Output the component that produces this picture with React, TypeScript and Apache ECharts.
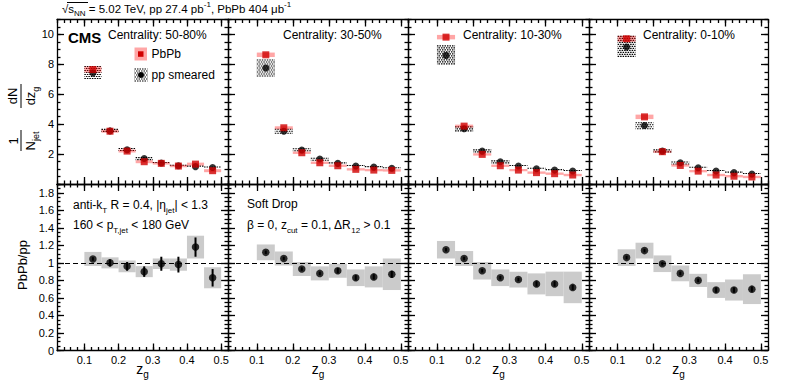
import React, { useEffect, useRef } from 'react';
import * as echarts from 'echarts';

const FONT = '"Liberation Sans", Arial, Helvetica, sans-serif';

// ---------------- data ----------------
const binLow = [0.1, 0.15, 0.2, 0.25, 0.3, 0.35, 0.4, 0.45];
const binWidth = 0.05;
const centralityLabels = ['Centrality: 50-80%', 'Centrality: 30-50%', 'Centrality: 10-30%', 'Centrality: 0-10%'];

const ppSmeared = [
  [7.42, 3.55, 2.29, 1.71, 1.40, 1.22, 1.16, 1.10],
  [7.76, 3.53, 2.27, 1.67, 1.38, 1.20, 1.13, 1.05],
  [8.60, 3.69, 2.20, 1.49, 1.20, 1.02, 0.93, 0.87],
  [9.16, 3.91, 2.20, 1.42, 1.09, 0.87, 0.76, 0.67],
];
const ppSyst = [
  [0.50, 0.17, 0.15, 0.12, 0.10, 0.10, 0.10, 0.10],
  [0.60, 0.20, 0.15, 0.12, 0.10, 0.10, 0.10, 0.10],
  [0.70, 0.20, 0.15, 0.12, 0.10, 0.10, 0.10, 0.10],
  [0.78, 0.25, 0.15, 0.12, 0.10, 0.10, 0.10, 0.10],
];
const pbpb = [
  [7.65, 3.53, 2.20, 1.49, 1.38, 1.20, 1.33, 0.89],
  [8.64, 3.76, 2.09, 1.42, 1.22, 0.98, 0.93, 0.91],
  [9.82, 3.87, 1.98, 1.22, 0.93, 0.76, 0.69, 0.60],
  [9.71, 4.49, 2.16, 1.24, 0.86, 0.60, 0.52, 0.47],
];
const pbpbSyst = [
  [0.20, 0.10, 0.10, 0.10, 0.08, 0.08, 0.10, 0.10],
  [0.15, 0.10, 0.08, 0.08, 0.08, 0.08, 0.08, 0.08],
  [0.15, 0.10, 0.08, 0.08, 0.08, 0.08, 0.08, 0.08],
  [0.20, 0.15, 0.08, 0.08, 0.08, 0.08, 0.08, 0.08],
];
const ratio = [
  [1.045, 1.00, 0.96, 0.90, 0.99, 0.98, 1.18, 0.83],
  [1.12, 1.05, 0.93, 0.88, 0.91, 0.83, 0.84, 0.87],
  [1.15, 1.05, 0.91, 0.83, 0.81, 0.76, 0.76, 0.72],
  [1.06, 1.14, 0.99, 0.88, 0.80, 0.69, 0.69, 0.70],
];
const ratioStat = [
  [0.02, 0.04, 0.05, 0.06, 0.08, 0.09, 0.11, 0.10],
  [0.02, 0.02, 0.02, 0.02, 0.03, 0.03, 0.03, 0.04],
  [0.02, 0.02, 0.02, 0.02, 0.02, 0.03, 0.03, 0.03],
  [0.02, 0.02, 0.02, 0.02, 0.02, 0.03, 0.03, 0.03],
];
const ratioSyst = [
  [0.08, 0.063, 0.067, 0.063, 0.06, 0.07, 0.13, 0.12],
  [0.09, 0.08, 0.08, 0.08, 0.08, 0.095, 0.12, 0.18],
  [0.10, 0.085, 0.10, 0.095, 0.09, 0.12, 0.14, 0.18],
  [0.095, 0.09, 0.095, 0.09, 0.075, 0.09, 0.12, 0.17],
];

const xMajorTicks = [0.1, 0.2, 0.3, 0.4, 0.5];
const topYMajorTicks = [0, 2, 4, 6, 8, 10];
const ratioYMajorTicks = [0, 0.2, 0.4, 0.6, 0.8, 1, 1.2, 1.4, 1.6, 1.8];

// ---------------- layout ----------------
const COLS = [[57, 228], [228, 408], [408, 589], [589, 768]];
const ROWS = [[19.5, 184], [184, 350.5]];
const X_MIN = 0.02, X_MAX = 0.52;

const AXIS_LINE = { color: '#000', width: 1.3 };

function rich(fs: number) {
  const s = Math.round(fs * 0.7);
  return {
    n: { fontSize: fs, fontFamily: FONT, fill: '#000', lineHeight: Math.round(fs * 1.5), verticalAlign: 'middle' },
    sub: { fontSize: s, fontFamily: FONT, fill: '#000', lineHeight: s, verticalAlign: 'bottom' },
    sup: { fontSize: s, fontFamily: FONT, fill: '#000', lineHeight: s, verticalAlign: 'top' },
  };
}
function txt(x: number, y: number, text: string, fs: number, opts: any = {}) {
  return {
    type: 'text', x, y, silent: true, z: 100,
    style: {
      text, fontSize: fs, fontFamily: FONT, fill: '#000', rich: rich(fs),
      fontWeight: opts.bold ? 'bold' : 'normal',
      textAlign: opts.align || 'left', textVerticalAlign: 'middle',
    },
  };
}
function hatchChildren(x: number, y: number, w: number, h: number) {
  const ch: any[] = [];
  let k = 0;
  for (let yy = y + 1; yy <= y + h - 0.4; yy += 2, k++) {
    ch.push({
      type: 'line',
      shape: { x1: x, y1: yy, x2: x + w, y2: yy },
      style: { stroke: '#000', lineWidth: 1.1, lineDash: [1.5, 1], lineDashOffset: k % 2 ? 1.25 : 0 },
    });
  }
  return ch;
}

const isMult = (v: number, step: number) => Math.abs(v / step - Math.round(v / step)) < 1e-6;

function xAxisFor(g: number, row: number, pos: string, major: boolean) {
  const showLabel = !major && pos === 'bottom' && row === 1;
  return {
    type: 'value', gridIndex: g, position: pos, min: X_MIN, max: X_MAX, interval: 0.02,
    axisLine: { show: !major, onZero: false, lineStyle: AXIS_LINE },
    axisTick: major
      ? { show: true, inside: true, length: 7, customValues: xMajorTicks, lineStyle: AXIS_LINE }
      : { show: true, inside: true, length: 3.5, lineStyle: AXIS_LINE },
    axisLabel: showLabel
      ? {
          show: true, fontSize: 11, fontFamily: FONT, color: '#000', margin: 4,
          formatter: (v: number) => {
            const t = Math.round(v * 10);
            return isMult(v, 0.1) && t >= 1 && t <= 5 ? (t / 10).toFixed(1) : '';
          },
        }
      : { show: false },
    splitLine: { show: false },
  };
}
function yAxisFor(g: number, row: number, col: number, pos: string, major: boolean) {
  const showLabel = !major && pos === 'left' && col === 0;
  const isTop = row === 0;
  const max = isTop ? 11 : 1.9;
  const interval = isTop ? 0.5 : 0.05;
  return {
    type: 'value', gridIndex: g, position: pos, min: 0, max, interval,
    axisLine: { show: !major, onZero: false, lineStyle: AXIS_LINE },
    axisTick: major
      ? { show: true, inside: true, length: 7, customValues: isTop ? topYMajorTicks : ratioYMajorTicks, lineStyle: AXIS_LINE }
      : { show: true, inside: true, length: 3.5, lineStyle: AXIS_LINE },
    axisLabel: showLabel
      ? {
          show: true, fontSize: 11, fontFamily: FONT, color: '#000', margin: 3,
          formatter: (v: number) => {
            if (isTop) return isMult(v, 2) && v > 0 ? String(Math.round(v)) : '';
            return isMult(v, 0.2) && v < 1.85 ? String(Math.round(v * 5) / 5) : '';
          },
        }
      : { show: false },
    splitLine: { show: false },
  };
}

const boxRender = (fill: string) => (_p: any, api: any) => {
  const a = api.coord([api.value(0), api.value(3)]);
  const b = api.coord([api.value(1), api.value(2)]);
  return { type: 'rect', shape: { x: a[0], y: a[1], width: b[0] - a[0], height: b[1] - a[1] }, style: { fill } };
};
const hatchRender = (_p: any, api: any) => {
  const a = api.coord([api.value(0), api.value(3)]);
  const b = api.coord([api.value(1), api.value(2)]);
  return { type: 'group', children: hatchChildren(a[0], a[1], b[0] - a[0], b[1] - a[1]) };
};
const statRender = (_p: any, api: any) => {
  const a = api.coord([api.value(0), api.value(2)]);
  const b = api.coord([api.value(0), api.value(1)]);
  return { type: 'line', shape: { x1: a[0], y1: a[1], x2: b[0], y2: b[1] }, style: { stroke: '#000', lineWidth: 2 } };
};

function buildOption() {
  const grid: any[] = [], xAxis: any[] = [], yAxis: any[] = [], series: any[] = [];
  const centers = binLow.map((b) => b + binWidth / 2);
  for (let row = 0; row < 2; row++) {
    for (let col = 0; col < 4; col++) {
      const g = row * 4 + col;
      grid.push({
        left: COLS[col][0], top: ROWS[row][0],
        width: COLS[col][1] - COLS[col][0], height: ROWS[row][1] - ROWS[row][0],
        containLabel: false, outerBoundsMode: 'none',
      });
      const xi = xAxis.length, yi = yAxis.length;
      xAxis.push(xAxisFor(g, row, 'bottom', false), xAxisFor(g, row, 'bottom', true), xAxisFor(g, row, 'top', false), xAxisFor(g, row, 'top', true));
      yAxis.push(yAxisFor(g, row, col, 'left', false), yAxisFor(g, row, col, 'left', true), yAxisFor(g, row, col, 'right', false), yAxisFor(g, row, col, 'right', true));
      const ax = { xAxisIndex: xi, yAxisIndex: yi };
      if (row === 0) {
        series.push({
          type: 'custom', ...ax, z: 2, silent: true, renderItem: hatchRender, encode: { x: [0, 1], y: [2, 3] },
          data: binLow.map((lo, i) => [lo, lo + binWidth, ppSmeared[col][i] - ppSyst[col][i], ppSmeared[col][i] + ppSyst[col][i]]),
        });
        series.push({
          type: 'custom', ...ax, z: 3, silent: true, renderItem: boxRender('rgba(255,0,0,0.35)'), encode: { x: [0, 1], y: [2, 3] },
          data: binLow.map((lo, i) => [lo, lo + binWidth, pbpb[col][i] - pbpbSyst[col][i], pbpb[col][i] + pbpbSyst[col][i]]),
        });
        series.push({
          type: 'scatter', ...ax, z: 4, silent: true, symbol: 'circle', symbolSize: 7,
          itemStyle: { color: '#000' }, data: centers.map((c, i) => [c, ppSmeared[col][i]]),
        });
        series.push({
          type: 'scatter', ...ax, z: 5, silent: true, symbol: 'rect', symbolSize: 7,
          itemStyle: { color: '#d00000' }, data: centers.map((c, i) => [c, pbpb[col][i]]),
        });
      } else {
        series.push({
          type: 'custom', ...ax, z: 2, silent: true, renderItem: boxRender('#cbcbcb'), encode: { x: [0, 1], y: [2, 3] },
          data: binLow.map((lo, i) => [lo, lo + binWidth, ratio[col][i] - ratioSyst[col][i], ratio[col][i] + ratioSyst[col][i]]),
        });
        series.push({
          type: 'custom', ...ax, z: 3, silent: true, renderItem: statRender, encode: { x: 0, y: [1, 2] },
          data: centers.map((c, i) => [c, ratio[col][i] - ratioStat[col][i], ratio[col][i] + ratioStat[col][i]]),
        });
        series.push({
          type: 'scatter', ...ax, z: 4, silent: true, symbol: 'circle', symbolSize: 7.5,
          itemStyle: { color: '#000' }, data: centers.map((c, i) => [c, ratio[col][i]]),
          markLine: {
            silent: true, symbol: ['none', 'none'], label: { show: false },
            lineStyle: { color: '#000', type: [5, 3], width: 1.2 },
            data: [{ yAxis: 1 }],
          },
        });
      }
    }
  }

  const graphic: any[] = [];
  // header
  graphic.push(txt(62, 9, '{n|√s}{sub|NN}{n| = 5.02 TeV, pp 27.4 pb}{sup|-1}{n|, PbPb 404 μb}{sup|-1}', 11.5));
  graphic.push({ type: 'line', silent: true, shape: { x1: 67, y1: 2.5, x2: 88, y2: 2.5 }, style: { stroke: '#000', lineWidth: 1 } });
  // CMS
  graphic.push(txt(68, 37, 'CMS', 15, { bold: true }));
  const centX = [108, 283, 463, 643];
  centralityLabels.forEach((t, i) => graphic.push(txt(centX[i], 34.5, t, 12)));
  // legend
  graphic.push({ type: 'rect', silent: true, shape: { x: 134.5, y: 47.5, width: 12.5, height: 13 }, style: { fill: 'rgba(255,0,0,0.35)' } });
  graphic.push({ type: 'rect', silent: true, shape: { x: 138, y: 51.3, width: 5.5, height: 5.5 }, style: { fill: '#d00000' } });
  graphic.push(txt(151.5, 54, 'PbPb', 12));
  graphic.push({ type: 'group', silent: true, children: hatchChildren(134.5, 68, 13, 14) });
  graphic.push({ type: 'circle', silent: true, shape: { cx: 141, cy: 75, r: 3 }, style: { fill: '#000' } });
  graphic.push(txt(151.5, 75, 'pp smeared', 12));
  // bottom texts
  graphic.push(txt(73, 205, '{n|anti-k}{sub|T}{n| R = 0.4, |η}{sub|jet}{n|| < 1.3}', 12));
  graphic.push(txt(73, 225, '{n|160 < p}{sub|T,jet}{n| < 180 GeV}', 12));
  graphic.push(txt(247, 204, 'Soft Drop', 12));
  graphic.push(txt(247, 225, '{n|β = 0, z}{sub|cut}{n| = 0.1, ΔR}{sub|12}{n| > 0.1}', 12));
  // x titles
  COLS.forEach((c) => graphic.push(txt((c[0] + c[1]) / 2, 369, '{n|z}{sub|g}', 14, { align: 'center' })));
  // y title top (fraction)
  graphic.push({
    type: 'group', x: 21, y: 118, rotation: Math.PI / 2, silent: true,
    children: [
      txt(-23, -8, '1', 13, { align: 'center' }),
      txt(-23, 9, '{n|N}{sub|jet}', 13, { align: 'center' }),
      { type: 'line', shape: { x1: -33, y1: 0, x2: -12, y2: 0 }, style: { stroke: '#000', lineWidth: 1 } },
      txt(22, -9, 'dN', 13, { align: 'center' }),
      txt(22, 9, '{n|dz}{sub|g}', 13, { align: 'center' }),
      { type: 'line', shape: { x1: 10, y1: 0, x2: 34, y2: 0 }, style: { stroke: '#000', lineWidth: 1 } },
    ],
  });
  graphic.push({
    type: 'group', x: 22, y: 265, rotation: Math.PI / 2, silent: true,
    children: [txt(0, 0, 'PbPb/pp', 13, { align: 'center' })],
  });

  return {
    animation: false,
    backgroundColor: '#fff',
    grid, xAxis, yAxis, series, graphic,
  };
}

export default function App() {
  const ref = useRef<HTMLDivElement>(null);
  useEffect(() => {
    const chart = echarts.init(ref.current as HTMLDivElement, null, { renderer: 'svg' });
    chart.setOption(buildOption() as any);
    return () => chart.dispose();
  }, []);
  return <div ref={ref} style={{ position: 'fixed', left: 0, top: 0, width: 788, height: 381, background: '#fff' }} />;
}
